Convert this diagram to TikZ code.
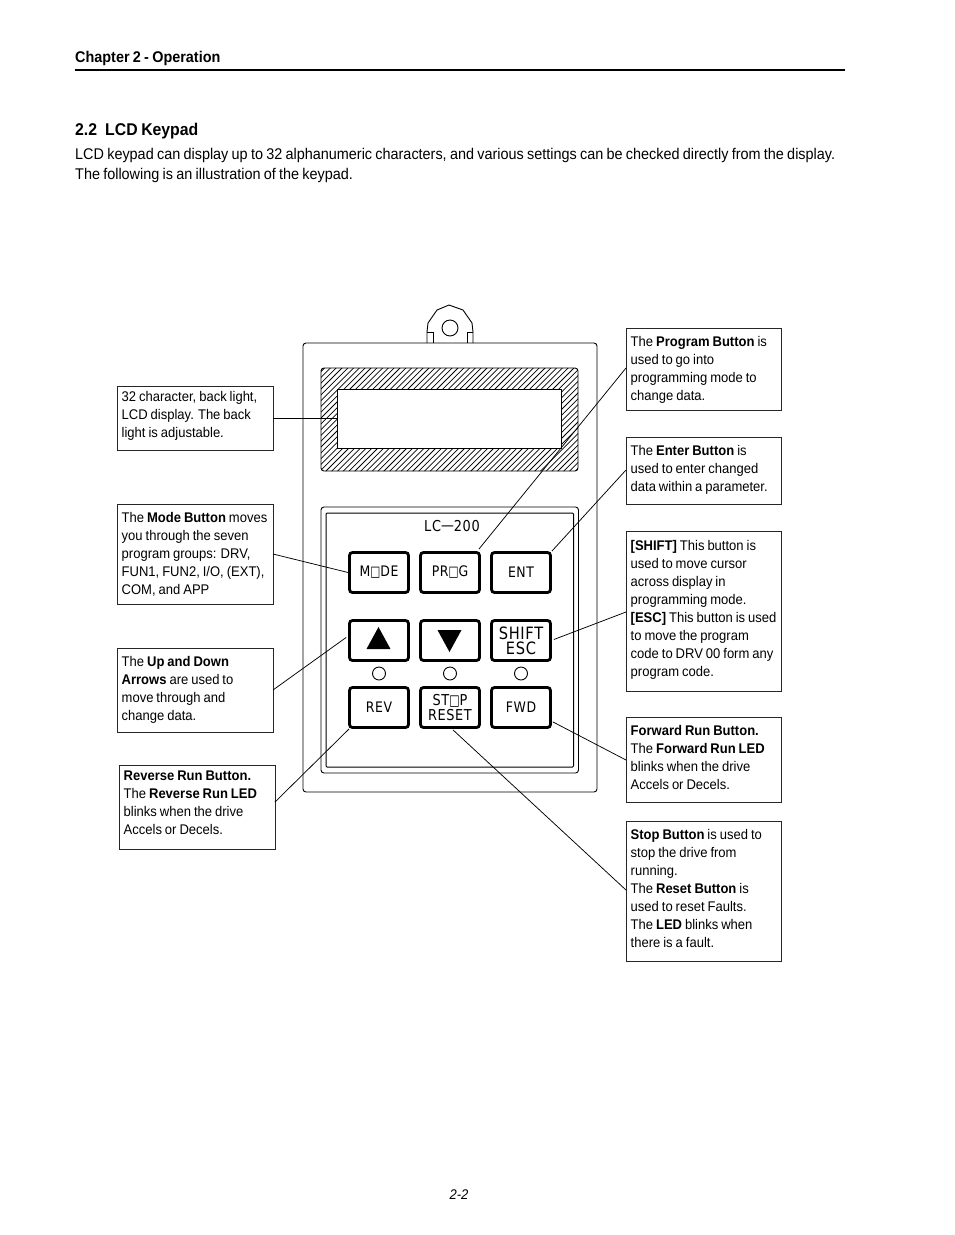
\documentclass[tikz,border=0pt]{standalone}
\usepackage{fontspec}
\setmainfont{Liberation Sans}[FakeStretch=0.93,WordSpace=0.82]
\newfontfamily\keyfont{DejaVu Sans}[FakeStretch=0.86,LetterSpace=4]
\usetikzlibrary{calc}
\tikzset{
  x=1pt,y=-1pt,
  calloutbox/.style={draw=black!85,line width=0.7pt,anchor=north west,inner sep=0pt,outer sep=0pt},
  callouttext/.style={anchor=west,inner sep=0pt,font=\fontsize{14}{18}\selectfont,align=left},
  leader/.style={draw=black,line width=0.75pt},
  keybtn/.style={draw=black,line width=2.8pt,rounded corners=3pt,minimum width=59pt,minimum height=40pt,inner sep=0pt,fill=white,font=\keyfont\fontsize{14.5}{15}\selectfont,align=center},
  lamp/.style={circle,draw=black,line width=0.9pt,minimum size=13pt,inner sep=0pt},
  outline/.style={draw=black,line width=0.9pt},
}
\newcommand{\sqO}{\scalebox{0.85}[1]{□}}
\newcommand{\cbox}[7]{% name, x, y, w, h, text dy, text
  \node[calloutbox,minimum width=#4 pt,minimum height=#5 pt] (#1) at (#2,#3) {};
  \node[callouttext] (#1t) at ($(#1.west)+(4.5,#6)$) {#7};}
\begin{document}
\begin{tikzpicture}
\useasboundingbox (0,0) rectangle (954,1235);
\fill[white] (0,0) rectangle (954,1235);
% page header
\node[anchor=base west,inner sep=0pt,font=\bfseries\fontsize{15.5}{18}\selectfont] (chap) at (75,62) {Chapter 2 - Operation};
\coordinate (ruleL) at (75,70); \coordinate (ruleR) at (845,70);
\draw[line width=1.8pt] (ruleL) -- (ruleR);
\node[anchor=base west,inner sep=0pt,font=\bfseries\fontsize{17}{20}\selectfont] (sect) at (75,135) {2.2\hspace{8pt}LCD Keypad};
\node[anchor=base west,inner sep=0pt,font=\fontsize{15.5}{20}\selectfont] (intro1) at (75,159) {LCD keypad can display up to 32 alphanumeric characters, and various settings can be checked directly from the display.};
\node[anchor=base west,inner sep=0pt,font=\fontsize{15.5}{20}\selectfont] (intro2) at (75,179) {The following is an illustration of the keypad.};
\node[anchor=base,inner sep=0pt,font=\itshape\fontsize{14}{18}\selectfont] (pageno) at (459,1199) {2-2};
% body
\draw[outline,fill=white] (427,343) -- (427,332) -- (428,323) -- (437,310) -- (449,305) -- (463,310) -- (472,323) -- (473,332) -- (473,343);
\draw[outline] (427,332) -- (433,332) -- (433,343) (473,332) -- (467,332) -- (467,343);
\draw[outline] (450,328) circle (8);
\draw[outline,rounded corners=3pt] (303,343) rectangle (597,792);
% display
\begin{scope}
\clip[rounded corners=3pt] (321,368) rectangle (578,471);
\foreach \i in {0,...,70}{
  \draw[line width=0.75pt] ({205+\i*5.8},476) -- ({205+\i*5.8+112},364);
}
\end{scope}
\draw[outline,rounded corners=3pt] (321,368) rectangle (578,471);
\node[draw=black,line width=0.9pt,fill=white,anchor=north west,minimum width=224pt,minimum height=59pt,inner sep=0pt,outer sep=0pt] (lcd) at (337,389) {};
% panel
\draw[outline,rounded corners=3pt] (321,507) rectangle (578.5,773);
\draw[outline,line width=1pt,rounded corners=1pt] (326,513) rectangle (573.5,767);
\node[font=\keyfont\fontsize{15}{15}\selectfont,inner sep=0pt] (model) at (452,526) {LC\raisebox{1pt}{—}200};
% keys
\node[keybtn] (mode) at (379,572.5) {M\sqO DE};
\node[keybtn] (prog) at (450,572.5) {PR\sqO G};
\node[keybtn] (ent) at (521,572.5) {ENT};
\node[keybtn] (up) at (379,640.5) {};
\node[keybtn] (down) at (450,640.5) {};
\node[keybtn,font=\keyfont\fontsize{17}{15}\selectfont] (shift) at (521,640.5) {SHIFT\\ESC};
\node[keybtn] (rev) at (379,707.5) {REV};
\node[keybtn,font=\keyfont\fontsize{15}{15}\selectfont] (stop) at (450,707.5) {ST\sqO P\\RESET};
\node[keybtn] (fwd) at (521,707.5) {FWD};
\fill (378.5,627) -- (390.5,649) -- (366.5,649) -- cycle;
\fill (449.5,652) -- (461.5,630) -- (437.5,630) -- cycle;
\node[lamp] (led1) at (379,673.5) {};
\node[lamp] (led2) at (450,673.5) {};
\node[lamp] (led3) at (521,673.5) {};
% callouts
\cbox{bLcd}{117}{386}{156}{64}{-2}{32 character, back light,\\LCD display. The back\\light is adjustable.}
\cbox{bMode}{117}{504}{156}{100}{0}{The \textbf{Mode Button} moves\\you through the seven\\program groups: DRV,\\FUN1, FUN2, I/O, (EXT),\\COM, and APP}
\cbox{bUp}{117}{648}{156}{84}{0}{The \textbf{Up and Down}\\\textbf{Arrows} are used to\\move through and\\change data.}
\cbox{bRev}{119}{765}{156}{84}{-4}{\textbf{Reverse Run Button.}\\The \textbf{Reverse Run LED}\\blinks when the drive\\Accels or Decels.}
\cbox{bProg}{626}{328}{155}{82}{1}{The \textbf{Program Button} is\\used to go into\\programming mode to\\change data.}
\cbox{bEnt}{626}{437}{155}{67}{-1}{The \textbf{Enter Button} is\\used to enter changed\\data within a parameter.}
\cbox{bShift}{626}{531}{155}{160}{-1.5}{\textbf{[SHIFT]} This button is\\used to move cursor\\across display in\\programming mode.\\\textbf{[ESC]} This button is used\\to move the program\\code to DRV 00 form any\\program code.}
\cbox{bFwd}{626}{717}{155}{85}{-2}{\textbf{Forward Run Button.}\\The \textbf{Forward Run LED}\\blinks when the drive\\Accels or Decels.}
\cbox{bStop}{626}{821}{155}{140}{-3}{\textbf{Stop Button} is used to\\stop the drive from\\running.\\The \textbf{Reset Button} is\\used to reset Faults.\\The \textbf{LED} blinks when\\there is a fault.}
% leaders
\draw[leader] (bLcd.east |- lcd.west) -- (lcd.west);
\draw[leader] ($(bMode.east)+(0,-0)$) -- (mode.west);
\draw[leader] ($(bUp.south east)+(0,-42)$) -- ($(up.west)+(-2,-3)$);
\draw[leader] ($(bRev.south east)+(0,-47)$) -- ($(rev.south west)+(1,0)$);
\draw[leader] ($(bProg.north west)+(0,40)$) -- ($(prog.north east)+(-2,-2)$);
\draw[leader] ($(bEnt.north west)+(0,33)$) -- ($(ent.north east)+(0,0)$);
\draw[leader] ($(bShift.north west)+(0,81)$) -- ($(shift.east)+(2,-1)$);
\draw[leader] ($(bFwd.north west)+(0,43)$) -- ($(fwd.south east)+(1,-7)$);
\draw[leader] ($(bStop.north west)+(0,69)$) -- ($(stop.south)+(3,1)$);
\end{tikzpicture}
\end{document}
